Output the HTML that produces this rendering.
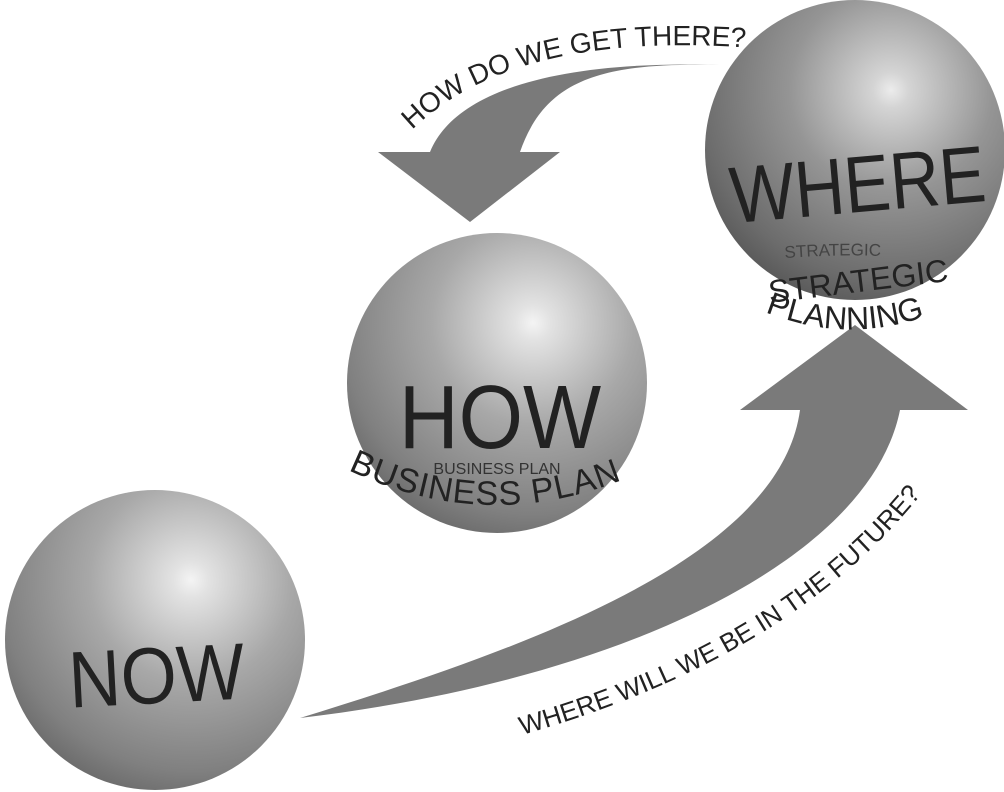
<!DOCTYPE html>
<html><head><meta charset="utf-8"><style>
html,body{margin:0;padding:0;background:#fff;width:1004px;height:792px;overflow:hidden}
svg{display:block}
text{font-family:"Liberation Sans",sans-serif}
</style></head><body>
<svg width="1004" height="792" viewBox="0 0 1004 792">
<defs>
<radialGradient id="g" cx="0.62" cy="0.3" r="0.75">
<stop offset="0" stop-color="#f4f4f4"/>
<stop offset="0.08" stop-color="#e2e2e2"/>
<stop offset="0.45" stop-color="#a8a8a8"/>
<stop offset="0.85" stop-color="#808080"/>
<stop offset="1" stop-color="#6a6a6a"/>
</radialGradient>
<radialGradient id="g2" cx="0.62" cy="0.3" r="0.75">
<stop offset="0" stop-color="#ececec"/>
<stop offset="0.08" stop-color="#d4d4d4"/>
<stop offset="0.45" stop-color="#959595"/>
<stop offset="0.85" stop-color="#6c6c6c"/>
<stop offset="1" stop-color="#585858"/>
</radialGradient>
<path id="p1" d="M412,130 Q520,25 775,50"/>
<path id="p2" d="M522,735 Q820,650 950,455"/>
<path id="p3" d="M348,470 Q495,540 645,470"/>
<path id="p4" d="M765,260 Q860,250 960,262"/>
<path id="p5" d="M765,312 Q860,350 952,305"/>
</defs>
<circle cx="855" cy="150" r="150" fill="url(#g2)"/>
<circle cx="497" cy="383" r="150" fill="url(#g)"/>
<circle cx="155" cy="640" r="150" fill="url(#g)"/>
<path d="M300,718 C520,650 780,560 800,410 L740,410 L855,325 L968,410 L900,410 C870,560 620,680 300,718 Z" fill="#7a7a7a"/>
<path d="M720,65 C600,62 545,80 520,152 L560,152 L470,222 L378,152 L430,152 C455,90 560,60 720,65 Z" fill="#7a7a7a"/>
<text font-size="28" fill="#222"><textPath href="#p1">HOW DO WE GET THERE?</textPath></text>
<text font-size="26" fill="#222"><textPath href="#p2">WHERE WILL WE BE IN THE FUTURE?</textPath></text>
<text x="0" y="0" font-size="80" text-anchor="middle" fill="#222" transform="translate(158,703) rotate(-3) scale(0.9,1)">NOW</text>
<text x="0" y="0" font-size="90" text-anchor="middle" fill="#222" transform="translate(500,448) scale(0.92,1)">HOW</text>
<text x="497" y="474" font-size="16" text-anchor="middle" fill="#333">BUSINESS PLAN</text>
<text font-size="34" fill="#222" letter-spacing="1"><textPath href="#p3">BUSINESS PLAN</textPath></text>
<text x="0" y="0" font-size="80" text-anchor="middle" fill="#222" transform="translate(860,212) rotate(-5) scale(0.86,1)">WHERE</text>
<text font-size="17" fill="#444"><textPath href="#p4" startOffset="20">STRATEGIC</textPath></text>
<text x="858" y="292" font-size="32" text-anchor="middle" fill="#222" transform="rotate(-7 858 280)">STRATEGIC</text>
<text font-size="32" fill="#222"><textPath href="#p5">PLANNING</textPath></text>
</svg>
</body></html>
